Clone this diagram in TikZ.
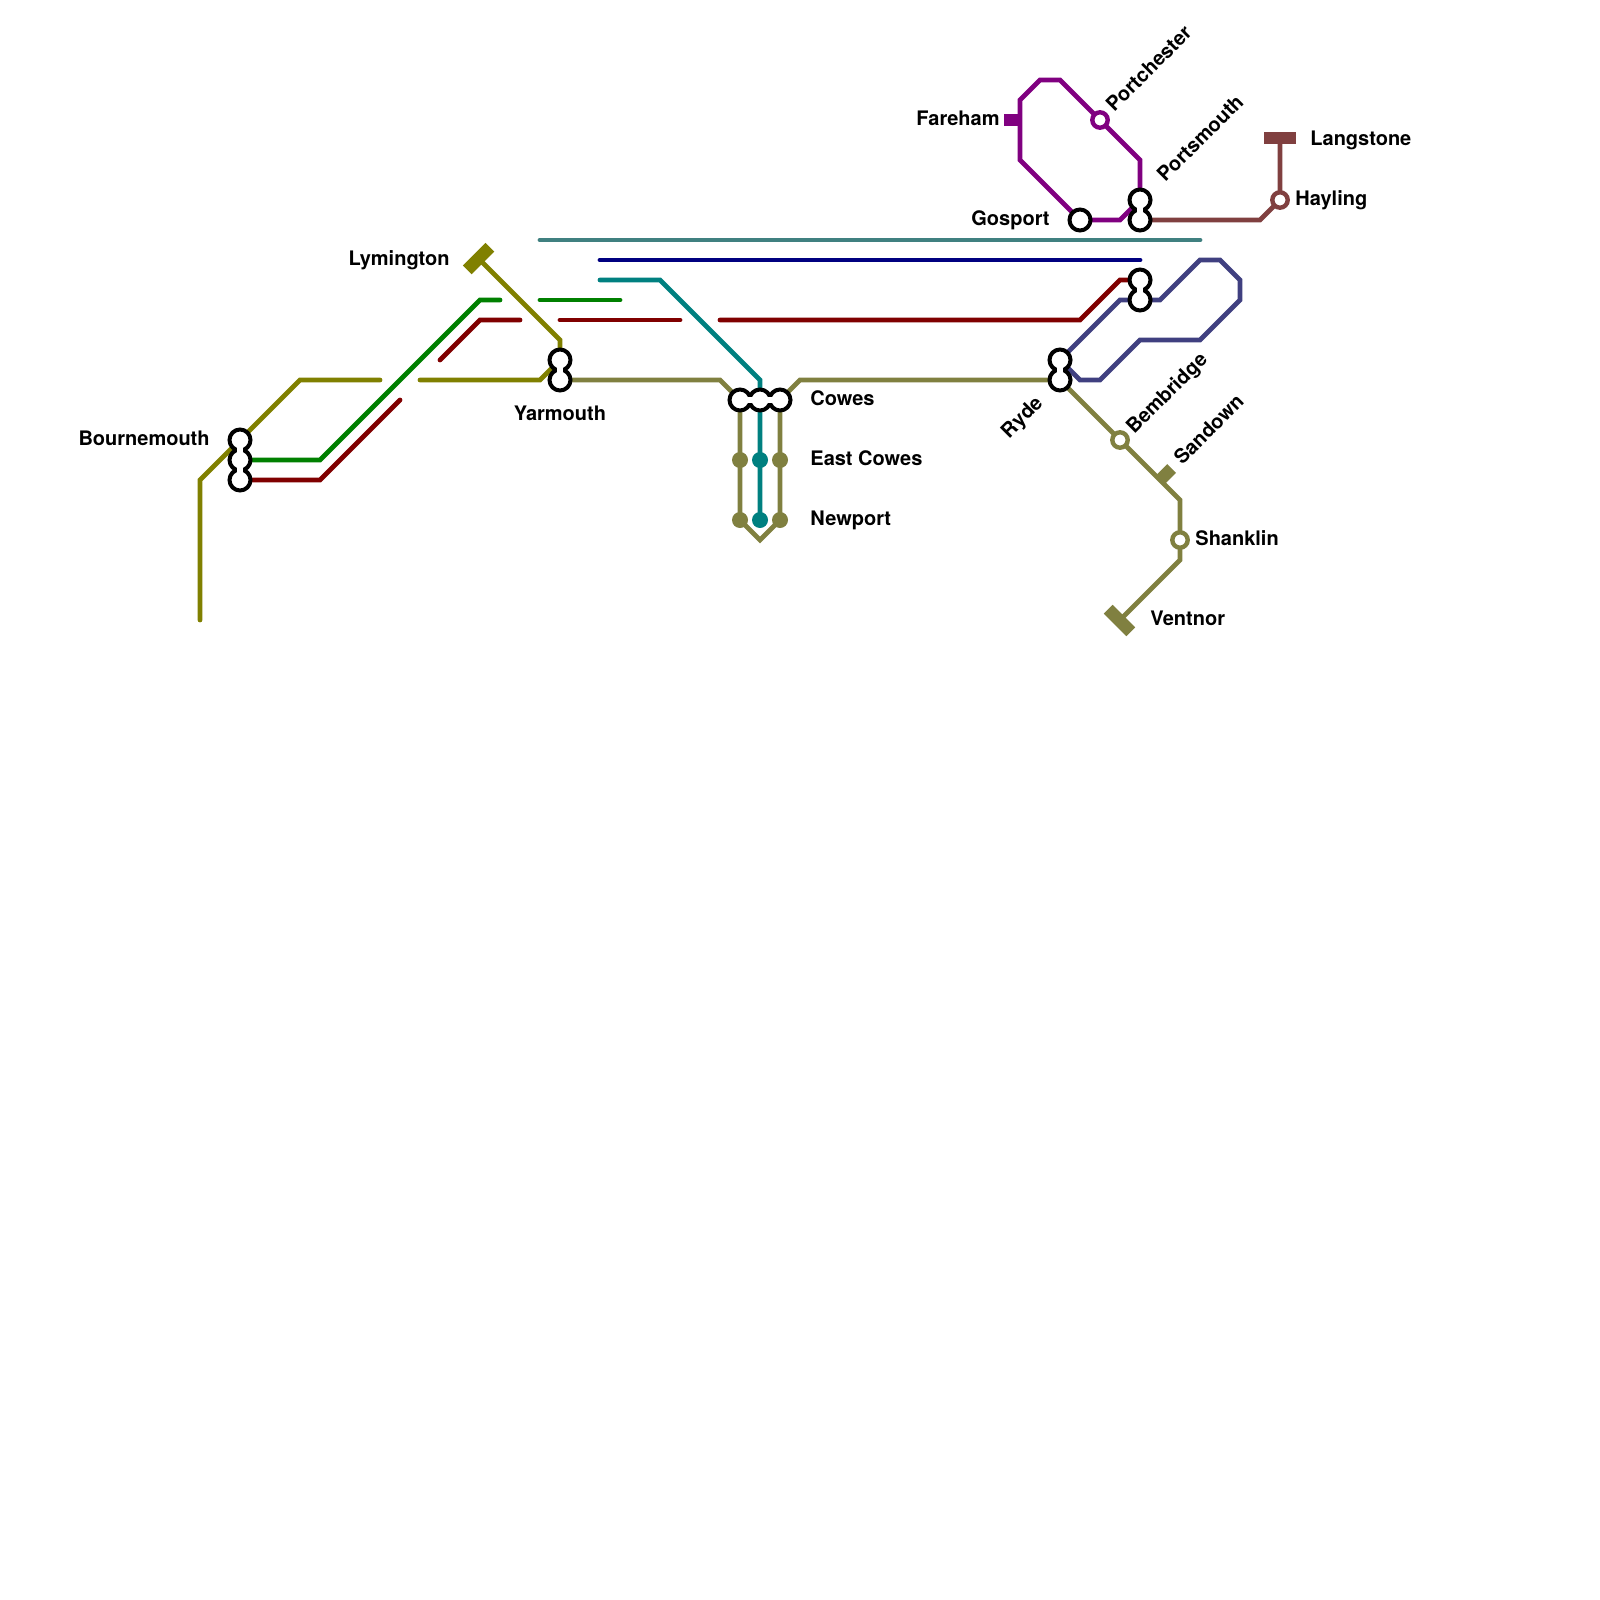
\documentclass[tikz,border=0pt]{standalone}
\usepackage{fontspec}
\setmainfont{TeX Gyre Heros}[BoldFont=* Bold]
\definecolor{colOlive}{HTML}{808000}
\definecolor{colGreen}{HTML}{008000}
\definecolor{colRed}{HTML}{800000}
\definecolor{colTeal}{HTML}{008080}
\definecolor{colNavy}{HTML}{000080}
\definecolor{colSea}{HTML}{408080}
\definecolor{colPurple}{HTML}{800080}
\definecolor{colBrown}{HTML}{804040}
\definecolor{colSage}{HTML}{808040}
\definecolor{colIndigo}{HTML}{404080}
\tikzset{
  route/.style={line width=2.4pt,line cap=round,line join=miter,draw=#1},
  ring/.style={circle,draw=black,fill=white,line width=2pt,minimum size=10.5pt,inner sep=0pt},
  neckout/.style={line width=5.5pt,draw=black},
  neckin/.style={line width=2.6pt,draw=white},
  openstop/.style={circle,draw=#1,fill=white,line width=2.2pt,minimum size=7.7pt,inner sep=0pt},
  dotstop/.style={circle,fill=#1,minimum size=8pt,inner sep=0pt},
  bar/.style={rectangle,fill=#1,minimum width=16pt,minimum height=6.2pt,inner sep=0pt},
  stub/.style={rectangle,fill=#1,minimum width=8.5pt,minimum height=6.2pt,inner sep=0pt},
  lab/.style={font=\bfseries\fontsize{10pt}{12pt}\selectfont,text=black,inner sep=0pt,text height=7.2pt,text depth=0pt},
}
\begin{document}
\begin{tikzpicture}[x=0.5pt,y=-0.5pt]
\useasboundingbox (0,0) rectangle (1600,1600);
% interchange and station positions
\foreach \n/\x/\y in {bouA/240/440,bouB/240/460,bouC/240/480,yarA/560/360,yarB/560/380,
  cowA/740/400,cowB/760/400,cowC/780/400,rydA/1060/360,rydB/1060/380,
  midA/1140/280,midB/1140/300,porA/1140/200,porB/1140/220,gos/1080/220,
  oliveEnd/200/620,oliveA/380/380,oliveB/420/380,lymEnd/480/260,
  redA/400/400,redB/440/360,redC/520/320,redD/560/320,redE/680/320,redF/720/320,
  greenA/500/300,greenB/540/300,greenC/620/300,
  seaA/540/240,seaB/1200/240,navyA/600/260,navyB/1140/260,tealA/600/280,
  farPt/1020/120,langPt/1280/140,vent/1120/620}
  {\coordinate (\n) at (\x,\y);}
% lines
\draw[route=colOlive] (oliveEnd) -- (200,480) -- (300,380) -- (oliveA);
\draw[route=colOlive] (oliveB) -- (540,380) -- (yarA) -- (560,340) -- (lymEnd);
\draw[route=colGreen] (bouB) -- (320,460) -- (480,300) -- (greenA);
\draw[route=colGreen] (greenB) -- (greenC);
\draw[route=colRed] (bouC) -- (320,480) -- (redA);
\draw[route=colRed] (redB) -- (480,320) -- (redC);
\draw[route=colRed] (redD) -- (redE);
\draw[route=colRed] (redF) -- (1080,320) -- (1120,280) -- (midA);
\draw[route=colSea] (seaA) -- (seaB);
\draw[route=colNavy] (navyA) -- (navyB);
\draw[route=colTeal] (tealA) -- (660,280) -- (760,380) -- (760,520);
\draw[route=colSage] (yarB) -- (720,380) -- (cowA) -- (740,520) -- (760,540) -- (780,520) -- (cowC) -- (800,380) -- (rydB) -- (1180,500) -- (1180,560) -- (vent);
\draw[route=colIndigo] (rydA) -- (1120,300) -- (1160,300) -- (1200,260) -- (1220,260) -- (1240,280) -- (1240,300) -- (1200,340) -- (1140,340) -- (1100,380) -- (1080,380) -- cycle;
\draw[route=colPurple] (gos) -- (1020,160) -- (1020,100) -- (1040,80) -- (1060,80) -- (1140,160) -- (porA);
\draw[route=colPurple] (gos) -- (1120,220) -- (porA);
\draw[route=colBrown] (porB) -- (1260,220) -- (1280,200) -- (langPt);
% terminals
\node[bar=colOlive,rotate=45] (lym) at (478.6,258.6) {};
\node[bar=colBrown] (lan) at (1280,138) {};
\node[bar=colSage,rotate=-45] (ven) at (1119.5,620.5) {};
\node[stub=colSage,rotate=45] (san) at (1165.6,474.4) {};
\node[rectangle,fill=colPurple,minimum width=8pt,minimum height=6pt,inner sep=0pt] (far) at (1012,120) {};
% simple stations
\node[openstop=colPurple] (pch) at (1100,120) {};
\node[openstop=colBrown] (hay) at (1280,200) {};
\node[openstop=colSage] (bem) at (1120,440) {};
\node[openstop=colSage] (sha) at (1180,540) {};
\node[dotstop=colSage] (ecA) at (740,460) {};
\node[dotstop=colTeal] (ecB) at (760,460) {};
\node[dotstop=colSage] (ecC) at (780,460) {};
\node[dotstop=colSage] (nwA) at (740,520) {};
\node[dotstop=colTeal] (nwB) at (760,520) {};
\node[dotstop=colSage] (nwC) at (780,520) {};
% interchanges
\foreach \a/\b in {bouA/bouB,bouB/bouC,yarA/yarB,cowA/cowB,cowB/cowC,rydA/rydB,midA/midB,porA/porB}
  \draw[neckout] (\a) -- (\b);
\foreach \n in {bouA,bouB,bouC,yarA,yarB,cowA,cowB,cowC,rydA,rydB,midA,midB,porA,porB,gos}
  \node[ring] (r\n) at (\n) {};
\foreach \a/\b in {bouA/bouB,bouB/bouC,yarA/yarB,cowA/cowB,cowB/cowC,rydA/rydB,midA/midB,porA/porB}
  \draw[neckin] (\a) -- (\b);
% labels
\node[lab,anchor=east] (tBou) at (210,438) {Bournemouth};
\node[lab,anchor=east] (tLym) at (450,258) {Lymington};
\node[lab] (tYar) at (560,413) {Yarmouth};
\node[lab,anchor=west] (tCow) at (810,398) {Cowes};
\node[lab,anchor=west] (tEas) at (810,458) {East Cowes};
\node[lab,anchor=west] (tNew) at (810,518) {Newport};
\node[lab,anchor=east] (tGos) at (1050,218) {Gosport};
\node[lab,anchor=east] (tFar) at (1000,118) {Fareham};
\node[lab,anchor=west,rotate=45] (tPch) at (1109,108) {Portchester};
\node[lab,anchor=west,rotate=45] (tPor) at (1160,178) {Portsmouth};
\node[lab,anchor=west,rotate=45] (tBem) at (1129,430) {Bembridge};
\node[lab,anchor=west,rotate=45] (tSan) at (1177,461) {Sandown};
\node[lab,anchor=east,rotate=45] (tRyd) at (1039,399) {Ryde};
\node[lab,anchor=west] (tHay) at (1295,198) {Hayling};
\node[lab,anchor=west] (tLan) at (1310,138) {Langstone};
\node[lab,anchor=west] (tSha) at (1195,538) {Shanklin};
\node[lab,anchor=west] (tVen) at (1150,618) {Ventnor};
\end{tikzpicture}
\end{document}
